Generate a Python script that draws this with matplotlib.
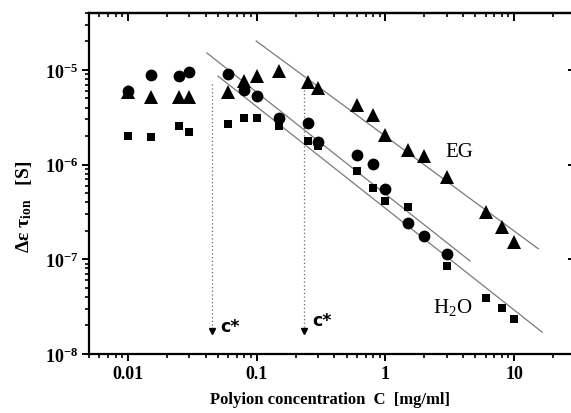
import matplotlib
matplotlib.use("Agg")
import matplotlib.pyplot as plt
from matplotlib.ticker import LogLocator, FixedLocator, NullFormatter
import numpy as np

plt.rcParams['font.family'] = ['Liberation Serif', 'DejaVu Serif']
plt.rcParams['mathtext.fontset'] = 'custom'
plt.rcParams['mathtext.rm'] = 'Liberation Serif'
plt.rcParams['mathtext.it'] = 'Liberation Serif:italic'
plt.rcParams['mathtext.bf'] = 'Liberation Serif:bold'

# ---- data ----
circle_x = [0.01, 0.015, 0.025, 0.03, 0.06, 0.08, 0.1, 0.15, 0.25, 0.3, 0.6, 0.8, 1.0, 1.5, 2.0, 3.0]
circle_y = [6.0e-6, 8.8e-6, 8.6e-6, 9.5e-6, 9.0e-6, 6.1e-6, 5.3e-6, 3.1e-6, 2.75e-6, 1.73e-6,
            1.26e-6, 1.01e-6, 5.5e-7, 2.4e-7, 1.76e-7, 1.14e-7]

triangle_x = [0.01, 0.015, 0.025, 0.03, 0.06, 0.08, 0.1, 0.15, 0.25, 0.3, 0.6, 0.8, 1.0, 1.5,
              2.0, 3.0, 6.0, 8.0, 10.0]
triangle_y = [5.8e-6, 5.2e-6, 5.2e-6, 5.2e-6, 5.8e-6, 7.6e-6, 8.6e-6, 9.7e-6, 7.45e-6, 6.4e-6,
              4.26e-6, 3.34e-6, 2.05e-6, 1.43e-6, 1.23e-6, 7.4e-7, 3.16e-7, 2.19e-7, 1.52e-7]

square_x = [0.01, 0.015, 0.025, 0.03, 0.06, 0.08, 0.1, 0.15, 0.25, 0.3, 0.6, 0.8, 1.0, 1.5,
            3.0, 6.0, 8.0, 10.0]
square_y = [2.0e-6, 1.96e-6, 2.56e-6, 2.21e-6, 2.68e-6, 3.1e-6, 3.1e-6, 2.56e-6, 1.77e-6, 1.57e-6,
            8.56e-7, 5.66e-7, 4.13e-7, 3.57e-7, 8.5e-8, 3.9e-8, 3.06e-8, 2.34e-8]

fit_upper_x = [0.041, 4.54]
fit_upper_y = [1.51e-5, 9.6e-8]
fit_lower_x = [0.05, 16.5]
fit_lower_y = [8.6e-6, 1.7e-8]
fit_eg_x = [0.099, 15.4]
fit_eg_y = [2.02e-5, 1.29e-7]

cstar_x = [0.045, 0.233]
cstar_top = [7.1e-6, 6.7e-6]
cstar_bottom = 1.75e-8
cstar_label_y = [1.75e-8, 2.0e-8]
cstar_labels = ["c*", "c*"]

x_ticks = [0.01, 0.1, 1, 10]
x_ticklabels = ["0.01", "0.1", "1", "10"]
y_ticks = [1e-8, 1e-7, 1e-6, 1e-5]
y_ticklabels = [r"$\mathbf{10^{-8}}$", r"$\mathbf{10^{-7}}$", r"$\mathbf{10^{-6}}$", r"$\mathbf{10^{-5}}$"]

# ---- figure ----
W, H = 571, 414
fig = plt.figure(figsize=(W / 100, H / 100), dpi=100)
left_px, right_px, top_px, bottom_px = 89.3, 575.6, 13.9, 355.0
ax = fig.add_axes([left_px / W, 1 - bottom_px / H, (right_px - left_px) / W, (bottom_px - top_px) / H])
ax.set_xscale('log')
ax.set_yscale('log')
ax.set_xlim(0.005, 30)
ax.set_ylim(1e-8, 4e-5)

line_kw = dict(color='#7a7a7a', lw=0.9, zorder=1)
ax.plot(fit_upper_x, fit_upper_y, **line_kw)
ax.plot(fit_lower_x, fit_lower_y, **line_kw)
ax.plot(fit_eg_x, fit_eg_y, **line_kw)

for xc, yt, yl, lab in zip(cstar_x, cstar_top, cstar_label_y, cstar_labels):
    ax.plot([xc, xc], [yt, cstar_bottom], ls=(0, (1, 2)), color='#666666', lw=0.9, zorder=1)
    ax.plot([xc], [cstar_bottom], marker='v', ms=4, color='black', zorder=2)
    ax.text(xc * 1.15, yl, lab, fontsize=12.5, fontweight='bold',
            family=['DejaVu Sans'], ha='left', va='baseline')

ax.plot(circle_x, circle_y, 'o', ms=8.5, color='black', mew=0, zorder=3)
ax.plot(triangle_x, triangle_y, '^', ms=9.5, color='black', mew=0, zorder=3)
ax.plot(square_x, square_y, 's', ms=6, color='black', mew=0, zorder=3)

ax.text(2.9, 1.23e-6, "EG", fontsize=15, ha='left', va='baseline')
ax.text(2.34, 2.78e-8, r"H$_2$O", fontsize=15, ha='left', va='baseline')

# ticks
ax.xaxis.set_major_locator(FixedLocator(x_ticks))
ax.set_xticklabels(x_ticklabels, fontweight='bold', fontsize=13)
ax.xaxis.set_minor_locator(LogLocator(base=10, subs=np.arange(2, 10), numticks=20))
ax.xaxis.set_minor_formatter(NullFormatter())
ax.yaxis.set_major_locator(FixedLocator(y_ticks))
ax.set_yticklabels(y_ticklabels, fontsize=13)
ax.yaxis.set_minor_locator(LogLocator(base=10, subs=np.arange(2, 10), numticks=20))
ax.yaxis.set_minor_formatter(NullFormatter())

for s in ax.spines.values():
    s.set_linewidth(1.6)

ax.tick_params(axis='both', which='major', direction='out', length=5, width=1.4, pad=3,
               top=False, right=False)
ax.tick_params(axis='both', which='minor', direction='out', length=3, width=1.2,
               top=False, right=False)

# mirrored inward ticks on top and right
axt = ax.secondary_xaxis('top')
axt.xaxis.set_major_locator(FixedLocator(x_ticks))
axt.xaxis.set_minor_locator(LogLocator(base=10, subs=np.arange(2, 10), numticks=20))
axt.tick_params(which='major', direction='in', length=6, width=1.4, labeltop=False)
axt.tick_params(which='minor', direction='in', length=3, width=1.2)
axt.xaxis.set_major_formatter(NullFormatter())
axt.xaxis.set_minor_formatter(NullFormatter())
axr = ax.secondary_yaxis('right')
axr.yaxis.set_major_locator(FixedLocator(y_ticks))
axr.yaxis.set_minor_locator(LogLocator(base=10, subs=np.arange(2, 10), numticks=20))
axr.tick_params(which='major', direction='in', length=6, width=1.4, labelright=False)
axr.tick_params(which='minor', direction='in', length=3, width=1.2)
axr.yaxis.set_major_formatter(NullFormatter())
axr.yaxis.set_minor_formatter(NullFormatter())
for a in (axt, axr):
    for s in a.spines.values():
        s.set_linewidth(1.6)

fig.text(330 / W, 1 - 400 / H, "Polyion concentration  C  [mg/ml]", fontsize=12,
         fontweight='bold', ha='center', va='center')
fig.text(24 / W, 1 - 207 / H, r"$\mathbf{\Delta\varepsilon\ \tau_{ion}}$   [S]", fontsize=14,
         fontweight='bold', rotation=90, ha='center', va='center')

fig.savefig("out.png", dpi=100)
